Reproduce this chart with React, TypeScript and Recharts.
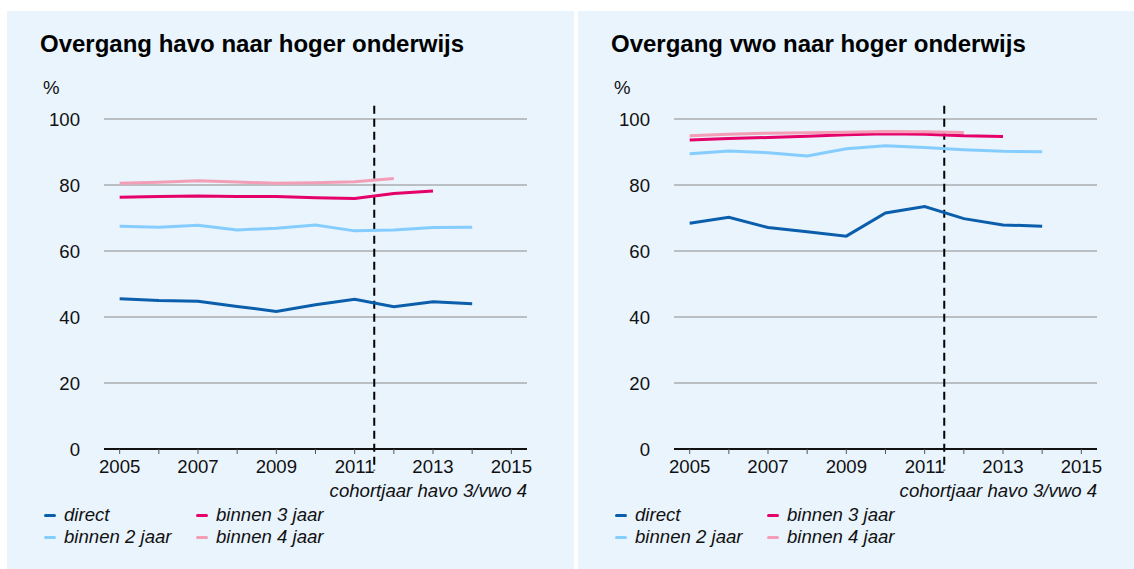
import React from "react";
import {
  CartesianGrid,
  Line,
  LineChart,
  ReferenceLine,
  XAxis,
  YAxis,
} from "recharts";

const years = [2005, 2006, 2007, 2008, 2009, 2010, 2011, 2012, 2013, 2014];
const xTicks = [2005, 2006, 2007, 2008, 2009, 2010, 2011, 2012, 2013, 2014, 2015];
const yTicks = [0, 20, 40, 60, 80, 100];

const havoDirect = [45.5, 45.0, 44.8, 43.2, 41.7, 43.7, 45.4, 43.1, 44.6, 44.0];
const havoBinnen2 = [67.5, 67.2, 67.8, 66.4, 66.9, 67.9, 66.1, 66.4, 67.1, 67.2];
const havoBinnen3 = [76.3, 76.5, 76.7, 76.5, 76.5, 76.1, 75.9, 77.4, 78.2];
const havoBinnen4 = [80.5, 80.8, 81.3, 80.9, 80.5, 80.7, 81.0, 82.0];

const vwoDirect = [68.4, 70.2, 67.1, 65.8, 64.5, 71.5, 73.5, 69.8, 67.9, 67.5];
const vwoBinnen2 = [89.5, 90.3, 89.8, 88.8, 91.0, 91.9, 91.4, 90.7, 90.2, 90.1];
const vwoBinnen3 = [93.6, 94.1, 94.4, 94.8, 95.2, 95.5, 95.4, 94.9, 94.7];
const vwoBinnen4 = [94.9, 95.4, 95.7, 95.8, 96.0, 96.2, 96.1, 95.9];

const series = [
  { key: "direct", label: "direct", color: "#0b5eab" },
  { key: "binnen2", label: "binnen 2 jaar", color: "#86cdff" },
  { key: "binnen3", label: "binnen 3 jaar", color: "#e5006a" },
  { key: "binnen4", label: "binnen 4 jaar", color: "#f49db6" },
];

const FONT = '"Liberation Sans", Arial, Helvetica, sans-serif';
const BG = "#e9f4fd";
const TXT = 18.6;

function buildRows(d: number[], b2: number[], b3: number[], b4: number[]) {
  return years.map((year, i) => ({
    year,
    direct: d[i] ?? null,
    binnen2: b2[i] ?? null,
    binnen3: b3[i] ?? null,
    binnen4: b4[i] ?? null,
  }));
}

const legendOrder = [
  [series[0], series[2]],
  [series[1], series[3]],
];

function Legend() {
  return (
    <div style={{ position: "absolute", left: 37, top: 493, fontFamily: FONT, fontSize: TXT, fontStyle: "italic", color: "#111" }}>
      {legendOrder.map((row, r) => (
        <div key={r} style={{ display: "flex", height: 22, alignItems: "center" }}>
          {row.map((s) => (
            <div key={s.key} style={{ display: "flex", alignItems: "center", width: 152 }}>
              <span style={{ width: 12, height: 3, borderRadius: 2, background: s.color, marginRight: 8 }} />
              <span>{s.label}</span>
            </div>
          ))}
        </div>
      ))}
    </div>
  );
}

interface PanelProps {
  title: string;
  rows: ReturnType<typeof buildRows>;
  left: number;
  width: number;
  marginLeft: number;
  marginRight: number;
}

function Panel({ title, rows, left, width, marginLeft, marginRight }: PanelProps) {
  const height = 558;
  return (
    <div style={{ position: "absolute", left, top: 11, width, height, background: BG }}>
      <div style={{ position: "absolute", left: 33, top: 19, fontFamily: FONT, fontSize: 24, fontWeight: "bold", color: "#000" }}>
        {title}
      </div>
      <div style={{ position: "absolute", left: 36, top: 66, fontFamily: FONT, fontSize: TXT, color: "#111" }}>%</div>
      <LineChart
        width={width}
        height={height}
        data={rows}
        margin={{ top: 108, right: marginRight, left: marginLeft, bottom: 90 }}
      >
        <CartesianGrid vertical={false} stroke="#8a8a8a" strokeWidth={1} />
        <XAxis
          dataKey="year"
          type="number"
          domain={[2004.6, 2015.4]}
          ticks={xTicks}
          allowDataOverflow
          height={30}
          stroke="#111"
          axisLine={{ stroke: "#111", strokeWidth: 2 }}
          tickLine={{ stroke: "#555" }}
          tickSize={5}
          tickMargin={6}
          tick={{ fontSize: TXT, fill: "#111", fontFamily: FONT }}
          tickFormatter={(v: number) => (v % 2 === 1 ? String(v) : "")}
        />
        <YAxis
          domain={[0, 100]}
          ticks={yTicks}
          width={60}
          axisLine={false}
          tickLine={false}
          tickSize={0}
          tickMargin={24}
          tick={{ fontSize: TXT, fill: "#111", fontFamily: FONT }}
        />
        <ReferenceLine
          segment={[
            { x: 2011.5, y: 104 },
            { x: 2011.5, y: -6.5 },
          ]}
          ifOverflow="visible"
          stroke="#000"
          strokeWidth={2}
          strokeDasharray="8 5"
        />
        {series.map((s) => (
          <Line
            key={s.key}
            dataKey={s.key}
            stroke={s.color}
            strokeWidth={3}
            dot={false}
            activeDot={false}
            isAnimationActive={false}
            connectNulls={false}
          />
        ))}
      </LineChart>
      <div
        style={{
          position: "absolute",
          right: marginRight,
          top: 469,
          fontFamily: FONT,
          fontSize: TXT,
          fontStyle: "italic",
          color: "#111",
        }}
      >
        cohortjaar havo 3/vwo 4
      </div>
      <Legend />
    </div>
  );
}

export default function App() {
  const havoRows = buildRows(havoDirect, havoBinnen2, havoBinnen3, havoBinnen4);
  const vwoRows = buildRows(vwoDirect, vwoBinnen2, vwoBinnen3, vwoBinnen4);
  return (
    <div style={{ position: "absolute", left: 0, top: 0, width: 1134, height: 569, background: "#fff", overflow: "hidden" }}>
      <Panel title="Overgang havo naar hoger onderwijs" rows={havoRows} left={7} width={567} marginLeft={37} marginRight={47} />
      <Panel title="Overgang vwo naar hoger onderwijs" rows={vwoRows} left={578} width={556} marginLeft={36} marginRight={37} />
    </div>
  );
}
